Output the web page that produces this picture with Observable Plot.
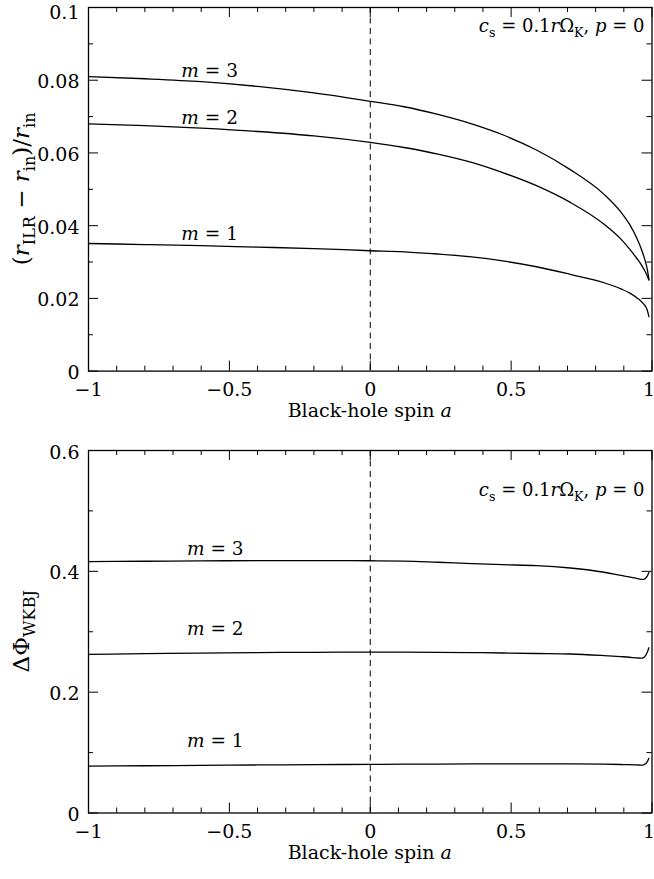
<!DOCTYPE html>
<html>
<head>
<meta charset="utf-8">
<script src="https://cdn.jsdelivr.net/npm/d3@7"></script>
<script src="https://cdn.jsdelivr.net/npm/@observablehq/plot@0.6"></script>
<style>
  body { margin: 0; background: #fff; }
  #chart svg { display: block; }
</style>
</head>
<body>
<div id="chart"></div>
<script>
// Black-hole spin samples shared by every curve
const spin = [-1, -0.8, -0.6, -0.4, -0.2, 0, 0.12, 0.24, 0.36, 0.47, 0.59, 0.71, 0.83, 0.89, 0.92, 0.947, 0.96, 0.97, 0.977, 0.983, 0.989];

// (r_ILR - r_in)/r_in for m = 1, 2, 3
const ilrM1 = [0.0351, 0.0348, 0.0345, 0.0341, 0.0337, 0.0331, 0.0328, 0.0322, 0.0314, 0.0303, 0.0287, 0.0266, 0.0243, 0.0226, 0.0215, 0.0201, 0.0193, 0.0185, 0.0178, 0.0168, 0.0150];
const ilrM2 = [0.0680, 0.0675, 0.0668, 0.0659, 0.0647, 0.0629, 0.0615, 0.0597, 0.0574, 0.0546, 0.0510, 0.0464, 0.0404, 0.0363, 0.0336, 0.0309, 0.0295, 0.0282, 0.0272, 0.0262, 0.0250];
const ilrM3 = [0.0810, 0.0804, 0.0796, 0.0783, 0.0765, 0.0742, 0.0727, 0.0706, 0.0680, 0.0650, 0.0608, 0.0554, 0.0486, 0.0437, 0.0404, 0.0364, 0.0340, 0.0318, 0.0300, 0.0281, 0.0252];

// WKBJ phase ΔΦ for m = 1, 2, 3
const phiM1 = [0.0775, 0.0782, 0.0789, 0.0795, 0.0800, 0.0805, 0.0808, 0.0810, 0.0812, 0.0813, 0.0813, 0.0812, 0.0808, 0.0803, 0.0800, 0.0795, 0.0793, 0.0798, 0.0815, 0.0845, 0.0905];
const phiM2 = [0.2625, 0.2637, 0.2647, 0.2655, 0.2660, 0.2662, 0.2662, 0.2660, 0.2655, 0.2648, 0.2640, 0.2632, 0.2605, 0.2588, 0.2578, 0.2566, 0.2563, 0.2572, 0.2605, 0.2655, 0.2735];
const phiM3 = [0.4160, 0.4167, 0.4173, 0.4177, 0.4178, 0.4175, 0.4170, 0.4150, 0.4128, 0.4110, 0.4095, 0.4055, 0.3985, 0.3932, 0.3907, 0.3882, 0.3868, 0.3866, 0.3885, 0.3920, 0.3980];

// Axis ticks
const spinTicks = [-1, -0.5, 0, 0.5, 1];
const spinMinorTicks = [-0.9, -0.8, -0.7, -0.6, -0.4, -0.3, -0.2, -0.1, 0.1, 0.2, 0.3, 0.4, 0.6, 0.7, 0.8, 0.9];
const ilrTicks = [0, 0.02, 0.04, 0.06, 0.08, 0.1];
const ilrMinorTicks = [0.01, 0.03, 0.05, 0.07, 0.09];
const phiTicks = [0, 0.2, 0.4, 0.6];
const phiMinorTicks = [0.1, 0.3, 0.5];

// Curve labels
const modeNames = ["m = 1", "m = 2", "m = 3"];
const ilrLabelSpin = [-0.57, -0.57, -0.57];
const ilrLabelY = [0.0378, 0.0697, 0.0825];
const phiLabelSpin = [-0.55, -0.55, -0.55];
const phiLabelY = [0.1185, 0.305, 0.437];

const FONT = "'DejaVu Serif', 'Liberation Serif', serif";
const FS = 19;
const W = 654;
const ML = 88, MR = 2.5;

const minus = (d) => (d < 0 ? "\u2212" + Math.abs(d) : String(d));

function richText(sel, parts, size) {
  let shifted = false;
  for (const p of parts) {
    const ts = sel.append("tspan").text(p.t);
    if (p.italic) ts.attr("font-style", "italic");
    if (p.sub) {
      ts.attr("font-size", size * 0.7);
      if (!shifted) { ts.attr("dy", size * 0.28); shifted = true; }
    } else if (shifted) {
      ts.attr("dy", -size * 0.28); shifted = false;
    }
  }
}

function italicizeModes(svg) {
  d3.select(svg).selectAll("text").each(function () {
    const t = this.textContent;
    if (/^m = \d$/.test(t)) {
      const s = d3.select(this);
      s.text(null);
      s.append("tspan").attr("font-style", "italic").text("m");
      s.append("tspan").text(t.slice(1));
    }
  });
}

function panel({height, mt, mb, yDomain, yTicks, yMinor, series, labelX, labelY, yLabelParts, yLabelSize, notePos, topLabelNudge}) {
  const frameW = W - ML - MR;
  const frameH = height - mt - mb;
  const rows = [];
  series.forEach((vals, k) => spin.forEach((a, i) => rows.push({a, v: vals[i], m: k + 1})));
  const labels = modeNames.map((t, i) => ({t, a: labelX[i], v: labelY[i]}));

  const svg = Plot.plot({
    width: W, height,
    marginLeft: ML, marginRight: MR, marginTop: mt, marginBottom: mb,
    style: {fontFamily: FONT, fontSize: FS + "px", color: "#000", background: "#fff", overflow: "visible"},
    x: {domain: [-1, 1]},
    y: {domain: yDomain},
    marks: [
      Plot.axisX({ticks: spinTicks, tickSize: 0, tickPadding: 11, tickFormat: minus, label: null}),
      Plot.axisY({ticks: yTicks, tickSize: 0, tickPadding: 9, tickFormat: minus, label: null, dy: 2}),
      Plot.ruleX([0], {stroke: "#000", strokeWidth: 1, strokeDasharray: "6,4.5"}),
      // inward ticks on all four sides
      Plot.tickX(spinTicks, {x: (d) => d, stroke: "#000", insetTop: frameH - 10}),
      Plot.tickX(spinTicks, {x: (d) => d, stroke: "#000", insetBottom: frameH - 10}),
      Plot.tickX(spinMinorTicks, {x: (d) => d, stroke: "#000", insetTop: frameH - 5}),
      Plot.tickX(spinMinorTicks, {x: (d) => d, stroke: "#000", insetBottom: frameH - 5}),
      Plot.tickY(yTicks, {y: (d) => d, stroke: "#000", insetRight: frameW - 10}),
      Plot.tickY(yTicks, {y: (d) => d, stroke: "#000", insetLeft: frameW - 10}),
      Plot.tickY(yMinor, {y: (d) => d, stroke: "#000", insetRight: frameW - 5}),
      Plot.tickY(yMinor, {y: (d) => d, stroke: "#000", insetLeft: frameW - 5}),
      Plot.line(rows, {x: "a", y: "v", z: "m", stroke: "#000", strokeWidth: 1.3, curve: "monotone-x"}),
      Plot.text(labels, {x: "a", y: "v", text: "t", fontSize: 18.5, textAnchor: "middle", fill: "#000"}),
      Plot.frame({stroke: "#000", strokeWidth: 1.3})
    ]
  });

  italicizeModes(svg);
  const s = d3.select(svg);

  // keep the last spin label inside the page
  s.selectAll('g[aria-label="x-axis tick label"] text')
    .filter(function () { return this.textContent === "1"; })
    .attr("text-anchor", "end").attr("dx", 3);

  // keep the topmost value label inside the page
  if (topLabelNudge) {
    const top = minus(yDomain[1]);
    s.selectAll('g[aria-label="y-axis tick label"] text')
      .filter(function () { return this.textContent === top; })
      .attr("dy", topLabelNudge);
  }

  // rotated y-axis title
  richText(
    s.append("text")
      .attr("transform", `translate(29,${mt + frameH / 2}) rotate(-90)`)
      .attr("text-anchor", "middle").attr("font-size", yLabelSize).attr("fill", "#000"),
    yLabelParts, yLabelSize);

  // x-axis title
  richText(
    s.append("text")
      .attr("x", ML + frameW / 2).attr("y", mt + frameH + 46)
      .attr("text-anchor", "middle").attr("font-size", FS).attr("fill", "#000"),
    [{t: "Black-hole spin "}, {t: "a", italic: true}], FS);

  // parameter note in the upper-right corner
  richText(
    s.append("text")
      .attr("x", W - MR - 7).attr("y", notePos)
      .attr("text-anchor", "end").attr("font-size", 18).attr("fill", "#000"),
    [{t: "c", italic: true}, {t: "s", sub: true}, {t: " = 0.1"}, {t: "r", italic: true},
     {t: "\u03A9"}, {t: "K", sub: true}, {t: ", "}, {t: "p", italic: true}, {t: " = 0"}], 18);

  return svg;
}

const chart = document.getElementById("chart");

chart.appendChild(panel({
  height: 430, mt: 7, mb: 59.4,
  yDomain: [0, 0.1], yTicks: ilrTicks, yMinor: ilrMinorTicks,
  series: [ilrM1, ilrM2, ilrM3],
  labelX: ilrLabelSpin, labelY: ilrLabelY,
  yLabelParts: [{t: "("}, {t: "r", italic: true}, {t: "ILR", sub: true}, {t: " \u2212 "},
                {t: "r", italic: true}, {t: "in", sub: true}, {t: ")/"},
                {t: "r", italic: true}, {t: "in", sub: true}],
  yLabelSize: 23,
  notePos: 32,
  topLabelNudge: 3
}));

chart.appendChild(panel({
  height: 449, mt: 20, mb: 66.5,
  yDomain: [0, 0.6], yTicks: phiTicks, yMinor: phiMinorTicks,
  series: [phiM1, phiM2, phiM3],
  labelX: phiLabelSpin, labelY: phiLabelY,
  yLabelParts: [{t: "\u0394\u03A6"}, {t: "WKBJ", sub: true}],
  yLabelSize: 23,
  notePos: 66
}));
</script>
</body>
</html>
